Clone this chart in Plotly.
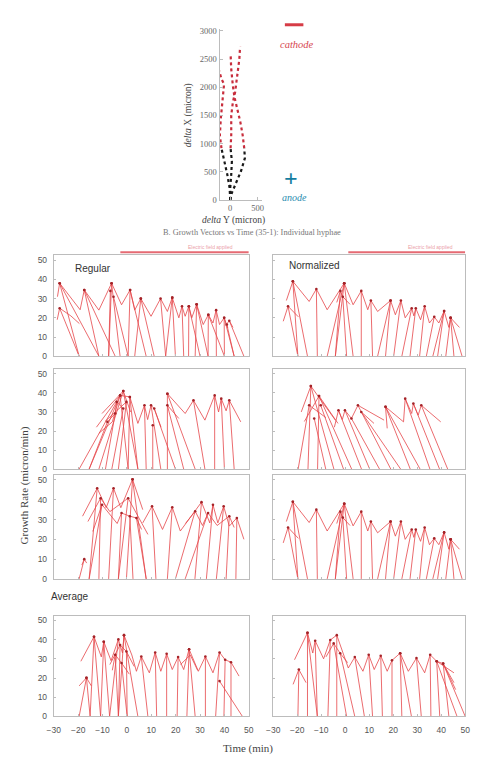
import plotly.graph_objects as go

W, H = 479, 766

# ---------------- hyphal tip trajectories (micron) ----------------
TRAJ_A_X = [0, -12, -54, -113, -161, -190, -173, -149, -113, -160, -202]
TRAJ_A_Y = [0, 216, 450, 684, 918, 1152, 1444, 1737, 2058, 2146, 2293]
TRAJ_B_X = [0, 30, 107, 196, 268, 256, 227, 184, 125, 77, 48, 18, 6]
TRAJ_B_Y = [0, 128, 304, 509, 742, 918, 1152, 1386, 1620, 1825, 2030, 2321, 2600]
TRAJ_C_X = [0, 0, 18, 30, 6, 18, 18, 48, 89, 125, 166, 180]
TRAJ_C_Y = [0, 216, 450, 684, 918, 1152, 1503, 1737, 1912, 2146, 2497, 2720]
FIELD_ON_Y = 918  # growth after this distance happened with the field on

# ---------------- growth vectors: Regular, row 1 ----------------
REG1_TIP_T = [-27.6, -27.6, -27.6, -17.5, -17.5, -6.3, -6.3, -6.8, -5.5, 1.3, 1.3, 5.7, 5.7, 13.8,
              18.6, 18.6, 22.6, 25.4, 25.4, 28.6, 28.6, 33.4, 33.4, 36.6, 39.9, 39.9, 42.0, 41.0]
REG1_TIP_V = [38, 38, 25, 34.5, 34.5, 38, 38, 34, 31, 34.5, 34.5, 30, 30, 30,
              30.5, 30.5, 26, 26, 26, 27, 27, 21.6, 21.6, 24, 20, 20, 18.5, 16.5]
REG1_BASE_T = [-19.6, -11.5, -19.6, -4.8, -11.5, -7.5, -2.8, -7.5, 0.5, 0.5, 7.9, 3.2, 11.2, 15.9,
               19.9, 15.9, 23.3, 25.3, 30, 28, 33.3, 33.3, 40, 36.7, 44, 40, 48, 44]
REG1_ZIG_T = [-28.5, -27.6, -19.2, -17.5, -11.5, -6.3, -2.2, 1.3, 3.2, 5.7, 9.9, 13.8, 16.6, 18.6,
              21.3, 22.6, 23.9, 25.4, 26.6, 28.6, 31.3, 33.4, 35.3, 36.6, 38.0, 39.9, 41.4, None,
              -28.6, -27.6, -23.0, -19.5, None, 40.5, 42.0, 43.5]
REG1_ZIG_V = [31, 38, 24.2, 34.5, 24, 38, 26.8, 34.5, 24, 30, 20.8, 30, 23.3, 30.5,
              20, 26, 20.8, 26, 20, 27, 16.5, 21.6, 17.3, 24, 16.5, 20, 14.8, None,
              19, 25, 21, 17, None, 16, 18.5, 15]

# ---------------- growth vectors: Normalized, rows 1 and 3 ----------------
NORM1_TIP_T = [-21.8, -21.8, -23.8, -12.0, -0.4, -0.4, -2.0, -1.0, -0.4, 6.7, 10.7, 18.9, 18.9,
               23.2, 27.7, 29.4, 33.1, 37.1, 41.2, 41.2, 43.9, 43.9, 43.9]
NORM1_TIP_V = [39, 39, 26, 35, 38, 38, 34, 31, 38, 34, 29, 29, 29,
               29, 25, 25, 26, 20.5, 23.5, 23.5, 20, 20, 20]
NORM1_BASE_T = [-19.7, -15.7, -19.7, -11.6, -7.5, -4.1, -4.1, 0.6, 3.3, 6.7, 11.4, 13.5, 16.8,
                20.2, 23.6, 27.0, 31.0, 33.8, 36.5, 38.5, 41.9, 45.3, 48.7]
NORM1_ZIG_T = [-24.5, -21.8, -15.0, -12.0, -7.5, -0.4, 3.3, 6.7, 9.4, 10.7, 13.5, 18.9, 20.9, 23.2,
               25.0, 27.7, 28.6, 29.4, 31.4, 33.1, 35.1, 37.1, 39.0, 41.2, 43.2, 43.9, 47.6, None,
               -25.8, -23.8, -19.5, None, -3.5, -2.0, -1.0, 2.0]
NORM1_ZIG_V = [29, 39, 28.5, 35, 24.2, 38, 26.8, 34, 24.2, 29, 23.3, 29, 21.6, 29,
               20, 25, 21, 25, 19, 26, 17.3, 20.5, 17.3, 23.5, 15, 20, 15, None,
               18.2, 26, 20.5, None, 28, 34, 31, 27]

# ---------------- growth vectors: Regular, row 2 ----------------
REG2_TIP_T = [-4.2, -2.8, -1.5, -4.8, -1.5, -0.2, 1.2, 1.2, 7.2, 10.6, 9.9, 16.6, 11.2, 16.6, 16.6,
              27.3, 36.0, 38.7, 42.0, -1.5, -2.8, -8.0]
REG2_TIP_V = [35.3, 38.7, 41, 29.2, 31.8, 35.3, 37.9, 37.9, 33.5, 23, 33.5, 39.6, 31.8, 33.5, 39.6,
              36.1, 38.7, 37, 36.1, 41, 38.7, 24.8]
REG2_BASE_T = [-19.6, -15.5, -11.5, -8.8, -6.2, -3.5, 0.5, 4.5, 7.9, 10.6, 13.9, 16.6, 19.9, 23.3, 28.0,
               32.0, 36.0, 40.0, 44.0, 4.5, 0.5, -15.5]
REG2_ZIG_T = [-10.2, -1.5, 1.5, None, -11.5, -6.0, -2.8, 1.2, 4.5, 7.2, 8.5, 9.9, 11.2, 14.0, None,
              -12.5, -2.8, None, -9.0, -0.2, None, 16.6, 23.9, 27.3, 32.0, 36.0, 37.6, 38.7, 40.7,
              42.0, 46.7, None, 16.6, 21.3, None, -8.0, -4.8, -4.2, -1.5]
REG2_ZIG_V = [29.2, 41, 30, None, 18.8, 24.8, 38.7, 37.9, 24, 33.5, 26, 33.5, 31.8, 22, None,
              22, 38.7, None, 25, 35.3, None, 39.6, 29.2, 36.1, 25.7, 38.7, 30, 37, 30.6,
              36.1, 24.8, None, 33.5, 26.6, None, 24.8, 29.2, 35.3, 31.8]

# ---------------- growth vectors: Normalized, row 2 ----------------
NORM2_TIP_T = [-14.3, -14.3, -10.9, -10.9, -15.0, -10.2, -12.9, -2.8, -0.1, 2.6, 5.3, 6.7, 16.8, 16.8,
               25.0, 28.4, 31.7]
NORM2_TIP_V = [43.6, 43.6, 38.4, 38.4, 33.5, 33.5, 26.6, 30.9, 30.9, 26.6, 33.5, 30, 32.7, 32.7,
               37, 34.4, 33.5]
NORM2_BASE_T = [-15.5, -4.7, -11.5, 2.7, -19.6, -0.7, -8.1, 6.8, 10.2, 14.3, 19.0, 23.1, 27.1, 31.2,
                35.3, 39.3, 42.7]
NORM2_ZIG_T = [-18.3, -14.3, -4.1, None, -17.0, -10.9, -3.0, None, -4.5, -2.8, -1.2, -0.1, 2.6, 5.3,
               16.2, None, 6.7, 12.0, None, 17.5, 16.8, 24.3, 25.0, 27.7, 28.4, 30.4, 31.7, 39.8,
               None, -15.0, -8.0]
NORM2_ZIG_V = [30, 43.6, 25.7, None, 25, 38.4, 24, None, 22, 30.9, 26, 30.9, 26.6, 33.5,
               25.7, None, 30, 24, None, 21.4, 32.7, 24.8, 37, 29.2, 34.4, 28.3, 33.5, 24.8,
               None, 33.5, 27]

# ---------------- growth vectors: Regular, row 3 ----------------
REG3_TIP_T = [-17.5, -12.2, -10.8, -10.2, -5.5, 0.5, -2.2, 2.3, 2.3, 1.2, 3.9, 10.3, 18.6, 28.0,
              33.3, 30.6, 35.3, 39.7, 42.0, 45.1]
REG3_TIP_V = [10, 45.8, 40.8, 37.5, 45.8, 40.8, 33.3, 50.3, 50.3, 31.7, 30.8, 36.7, 36.2, 34.2,
              33.3, 38.8, 37.5, 36.7, 31.7, 30.8]
REG3_BASE_T = [-19.6, -15.5, -11.5, -15.5, -7.5, -3.5, -3.5, -0.2, 7.9, 2.5, 7.9, 11.9, 16.6, 19.9,
               23.9, 27.9, 32.6, 36.7, 40.7, 44.7]
REG3_ZIG_T = [-18.2, -12.2, -8.5, -5.5, -2.5, 2.3, 6.5, None, -16.0, -10.8, -7.0, 0.5, 8.6, None,
              -14.0, -10.2, -4.0, -2.2, 1.2, 3.9, 6.0, None, 6.5, 10.3, 14.6, 18.6, 21.9, 30.6,
              34.0, 35.3, 37.3, 39.7, 42.0, 45.1, 48.0, None, 24.0, 28.0, 31.0, 33.3, 37.0, 42.0,
              44.0, None, -18.5, -17.5, -16.5]
REG3_ZIG_V = [31.7, 45.8, 36, 45.8, 36, 50.3, 35, None, 29, 40.8, 34, 40.8, 22.5, None,
              24, 37.5, 28, 33.3, 31.7, 30.8, 25, None, 28.3, 36.7, 25, 36.2, 24.2, 38.8,
              28.3, 37.5, 28.3, 36.7, 26.7, 30.8, 20, None, 28, 34.2, 27, 33.3, 27, 31.7,
              26, None, 7, 10, 8]

# ---------------- averaged growth vectors, row 4 ----------------
AVGR_TIP_T = [-16.6, -16.6, -13.5, -13.5, -9.5, -9.5, -3.5, -1.2, -1.2, -2.8, -0.2, -4.8, 5.9, 11.6,
              16.3, 21.0, 25.5, 25.5, 32.2, 38.0, 40.3, 42.7, 38.0, -2.2]
AVGR_TIP_V = [20.1, 20.1, 41.5, 41.5, 38.9, 38.9, 40.1, 42.3, 42.3, 37.2, 33.8, 32.1, 31.2, 33.3,
              32.6, 30.9, 35, 35, 31.2, 33.3, 29.5, 28.2, 18.4, 27.8]
AVGR_BASE_T = [-19.6, -15.1, -15.1, -10.8, -10.8, -7.1, -7.1, -3.5, 4.5, -3.5, 0.1, -3.5, 8.6, 12.2,
               16.3, 20.6, 24.6, 28.0, 32.2, 36.4, 39.8, 42.7, 47.4, 0.1]
AVGR_ZIG_T = [-18.9, -13.5, -10.5, -9.5, -6.5, -3.5, -1.8, -1.2, 2.0, 3.9, 5.9, 9.2, 11.6, 13.9,
              16.3, 18.6, 21.0, 23.3, 25.5, 29.3, 32.2, 35.3, 38.0, 40.3, 42.7, 46.0, None,
              -19.6, -16.6, -14.6, None, -7.0, -2.8, -0.2, 3.0, None, -6.0, -4.8, -2.2, 1.0,
              None, 22.0, 26.0, 29.0]
AVGR_ZIG_V = [28.7, 41.5, 31, 38.9, 29, 40.1, 33, 42.3, 32, 23.5, 31.2, 22.7, 33.3, 23.5,
              32.6, 24.4, 30.9, 24.4, 35, 23.5, 31.2, 22.7, 33.3, 29.5, 28.2, 21, None,
              15.9, 20.1, 15.9, None, 27, 37.2, 33.8, 26, None, 24, 32.1, 27.8, 22,
              None, 27, 32, 24]

AVGN_TIP_T = [-19.3, -15.7, -15.7, -12.5, -6.2, -3.5, -4.8, -2.1, 4.0, 9.8, 14.8, 19.5, 22.9, 22.9,
              29.7, 35.4, 38.1, 38.1, 40.8, 40.8]
AVGN_TIP_V = [24.4, 43.5, 43.5, 39.4, 39.8, 42.3, 38, 32.9, 30.9, 32.1, 31.6, 29.2, 32.9, 32.9,
              30.4, 32.1, 28.7, 28.7, 27.5, 27.5]
AVGN_BASE_T = [-19.7, -15.7, -11.6, -11.6, -7.2, -3.5, 0.6, 4.0, 8.0, 11.4, 15.5, 19.5, 23.6, 27.6,
               31.7, 35.7, 39.4, 46.6, 43.2, 50.0]
AVGN_ZIG_T = [-21.1, -15.7, -13.5, -12.5, -9.0, -6.2, -3.5, -1.0, 1.3, 4.0, 7.4, 9.8, 12.1, 14.8,
              17.5, 19.5, 22.9, 26.3, 29.7, 33.1, 35.4, 38.1, 40.8, 45.3, None,
              -21.7, -19.3, -16.3, None, -8.0, -4.8, -2.1, 1.0, None, 38.1, 45.3, None, 40.8, 46.0]
AVGN_ZIG_V = [29.5, 43.5, 33, 39.4, 30, 39.8, 42.3, 33, 25.2, 30.9, 23.5, 32.1, 24.4, 31.6,
              23.5, 29.2, 32.9, 23.5, 30.4, 22.7, 32.1, 28.7, 27.5, 17.6, None,
              16.7, 24.4, 17.6, None, 31, 38, 32.9, 28, None, 28.7, 22.7, None, 27.5, 14]

X_TICKS = [-30, -20, -10, 0, 10, 20, 30, 40, 50]
Y_TICKS = [0, 10, 20, 30, 40, 50]
TOP_Y_TICKS = [0, 500, 1000, 1500, 2000, 2500, 3000]
TOP_X_TICKS = [0, 500]

# ---------------- styling ----------------
SERIF = "Liberation Serif, Times New Roman, serif"
SANS = "Liberation Sans, Arial, sans-serif"
FRAME = "rgb(188,188,188)"
VEC_LINE = "rgba(230,70,74,0.8)"
VEC_HEAD = "rgb(165,35,40)"
TICK_FONT = dict(family=SANS, size=8.5, color="#555")


def px_x(a, b):
    return [a / W, b / W]


def px_y(top, bottom):
    return [1 - bottom / H, 1 - top / H]


COLS = {"L": (48, 248), "R": (273, 470)}
ROWS = [(255, 357), (370, 471), (477, 582), (619, 721)]

PANELS = [
    (0, "L", REG1_TIP_T, REG1_TIP_V, REG1_BASE_T, REG1_ZIG_T, REG1_ZIG_V),
    (0, "R", NORM1_TIP_T, NORM1_TIP_V, NORM1_BASE_T, NORM1_ZIG_T, NORM1_ZIG_V),
    (1, "L", REG2_TIP_T, REG2_TIP_V, REG2_BASE_T, REG2_ZIG_T, REG2_ZIG_V),
    (1, "R", NORM2_TIP_T, NORM2_TIP_V, NORM2_BASE_T, NORM2_ZIG_T, NORM2_ZIG_V),
    (2, "L", REG3_TIP_T, REG3_TIP_V, REG3_BASE_T, REG3_ZIG_T, REG3_ZIG_V),
    (2, "R", NORM1_TIP_T, NORM1_TIP_V, NORM1_BASE_T, NORM1_ZIG_T, NORM1_ZIG_V),
    (3, "L", AVGR_TIP_T, AVGR_TIP_V, AVGR_BASE_T, AVGR_ZIG_T, AVGR_ZIG_V),
    (3, "R", AVGN_TIP_T, AVGN_TIP_V, AVGN_BASE_T, AVGN_ZIG_T, AVGN_ZIG_V),
]

fig = go.Figure()
layout = dict(
    width=W, height=H, margin=dict(l=0, r=0, t=0, b=0),
    paper_bgcolor="white", plot_bgcolor="white", showlegend=False,
    annotations=[], shapes=[],
)

# ---------------- top chart: trajectories ----------------
def split_track(xs, ys, limit):
    n = sum(1 for y in ys if y <= limit)
    return (xs[:n], ys[:n]), (xs[n - 1:], ys[n - 1:])


for tx, ty in [(TRAJ_A_X, TRAJ_A_Y), (TRAJ_B_X, TRAJ_B_Y), (TRAJ_C_X, TRAJ_C_Y)]:
    (bx, by), (rx, ry) = split_track(tx, ty, FIELD_ON_Y)
    fig.add_trace(go.Scatter(x=bx, y=by, mode="lines", xaxis="x", yaxis="y",
                             line=dict(color="rgb(25,25,25)", width=2.2, dash="dot")))
    fig.add_trace(go.Scatter(x=rx, y=ry, mode="lines", xaxis="x", yaxis="y",
                             line=dict(color="rgb(200,45,60)", width=2.2, dash="dot")))

layout["xaxis"] = dict(domain=px_x(218, 262), anchor="y", range=[-196, 589],
                       showgrid=False, zeroline=False, showline=True, linecolor=FRAME,
                       tickvals=TOP_X_TICKS, ticks="inside", ticklen=3, tickcolor=FRAME,
                       ticklabelstandoff=0,
                       tickfont=dict(family=SERIF, size=8.5, color="#666"))
layout["yaxis"] = dict(domain=px_y(26, 199), anchor="x", range=[0, 3040],
                       showgrid=False, zeroline=False, showline=True, linecolor=FRAME,
                       tickvals=TOP_Y_TICKS, ticks="inside", ticklen=3, tickcolor=FRAME,
                       tickfont=dict(family=SERIF, size=8.5, color="#666"))


def note(text, x, y, size, color="#333", family=SERIF, angle=0):
    layout["annotations"].append(dict(
        text=text, x=x / W, y=1 - y / H, xref="paper", yref="paper",
        xanchor="center", yanchor="middle", showarrow=False, textangle=angle,
        font=dict(family=family, size=size, color=color)))


note("<i>delta</i> X (micron)", 187, 113, 9.5, "#444", angle=-90)
note("<i>delta</i> Y (micron)", 232, 220, 9.5, "#444")
note("<i>cathode</i>", 297, 42, 10.5, "rgb(214,70,80)")
note("<b>+</b>", 291, 177, 24, "rgb(20,125,160)")
note("<i>anode</i>", 295, 197, 10, "rgb(40,140,175)")
note("B. Growth Vectors vs Time (35-1): Individual hyphae", 251, 232, 8.3, "#777")
layout["shapes"].append(dict(type="line", xref="paper", yref="paper",
                             x0=285 / W, x1=304 / W, y0=1 - 22 / H, y1=1 - 22 / H,
                             line=dict(color="rgb(214,60,70)", width=3)))

# ---------------- growth vector panels ----------------
for i, (row, col, tip_t, tip_v, base_t, zig_t, zig_v) in enumerate(PANELS):
    k = i + 2
    xa, ya = f"x{k}", f"y{k}"
    sx, sy = [], []
    for t, v, b in zip(tip_t, tip_v, base_t):
        sx += [b, t, None]
        sy += [0, v, None]
    fig.add_trace(go.Scatter(x=sx, y=sy, mode="lines", xaxis=xa, yaxis=ya,
                             line=dict(color=VEC_LINE, width=1)))
    fig.add_trace(go.Scatter(x=zig_t, y=zig_v, mode="lines", xaxis=xa, yaxis=ya,
                             connectgaps=False, line=dict(color=VEC_LINE, width=1)))
    fig.add_trace(go.Scatter(x=tip_t, y=tip_v, mode="markers", xaxis=xa, yaxis=ya,
                             marker=dict(color=VEC_HEAD, size=2.6, line=dict(width=0))))
    bottom = row == 3
    left = col == "L"
    layout[f"xaxis{k}"] = dict(
        domain=px_x(*COLS[col]), anchor=ya, range=[-30, 50],
        showgrid=False, zeroline=False, showline=True, mirror=True, linecolor=FRAME,
        tickvals=X_TICKS, ticks="inside", ticklen=2, tickcolor=FRAME,
        ticklabelstandoff=5,
        showticklabels=bottom, tickfont=TICK_FONT)
    layout[f"yaxis{k}"] = dict(
        domain=px_y(*ROWS[row]), anchor=xa, range=[0, 52.5],
        showgrid=False, zeroline=False, showline=True, mirror=True, linecolor=FRAME,
        tickvals=Y_TICKS, ticks="inside", ticklen=2, tickcolor=FRAME,
        ticklabelstandoff=4,
        showticklabels=left, tickfont=TICK_FONT)
    if row == 0:
        start = -2.7 if left else 1.3
        layout["shapes"].append(dict(type="line", xref=xa, yref=f"{ya} domain",
                                     x0=start, x1=50, y0=1.03, y1=1.03,
                                     line=dict(color="rgba(225,80,90,0.85)", width=2)))
        cx = 209 if left else 434
        note("Electric field applied", cx, 247, 5, "rgba(225,110,120,0.7)", SANS)

note("Regular", 88, 268, 10, "#333", SANS)
note("Normalized", 315, 265, 10, "#333", SANS)
note("Average", 65, 600, 10, "#333", SANS)
note("Growth Rate (micron/min)", 18, 488, 11, "#444", angle=-90)
note("Time (min)", 247, 753, 11, "#444")

fig.update_layout(**layout)
fig.write_html("out.html")
